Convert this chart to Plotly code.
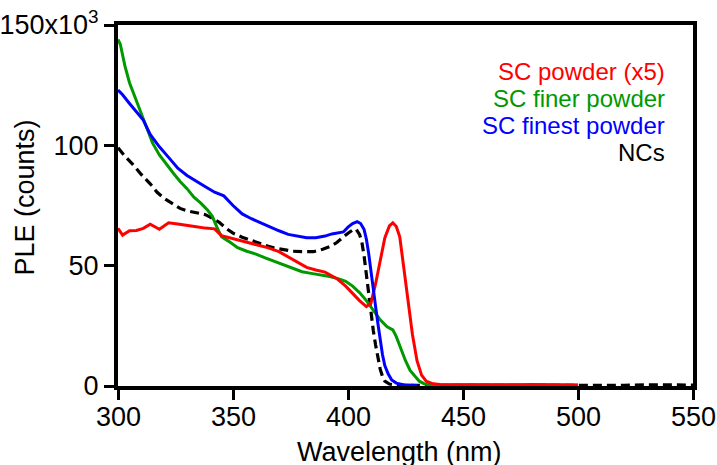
import plotly.graph_objects as go

# Wavelength (nm) and PLE (x10^3 counts)
red_wl = [300, 302, 305, 308, 311, 314, 318, 322, 326, 330, 334, 338, 342, 345, 350, 355, 360, 365, 370, 376,
          382, 386, 390, 395, 399, 402, 405, 408, 410, 412, 414, 416, 418, 419.5, 421, 422.5, 424, 426, 428, 430,
          432, 434, 437, 440, 450, 460, 470, 480, 490, 500]
red_val = [65.5, 62.7, 64.5, 64.6, 65.5, 67.2, 65.1, 67.8, 67.3, 66.9, 66.2, 65.6, 65.3, 62.5, 61.2, 59.8, 58.8, 57.5, 55.8, 52.6,
           49.3, 48.2, 47.3, 44.7, 41.5, 38.5, 35.5, 33.0, 34.5, 42.5, 52.5, 61.5, 66.5, 67.8, 66.3, 62.0, 51.0, 36.5, 21.5, 10.5,
           4.5, 2.0, 0.9, 0.6, 0.5, 0.6, 0.4, 0.6, 0.5, 0.4]

green_wl = [300, 301, 303, 305, 307, 309, 311, 313, 315, 318, 321, 324, 327, 330, 333, 336, 339, 341, 343, 345,
            348, 352, 356, 360, 364, 368, 372, 376, 380, 384, 388, 392, 396, 399, 402, 405, 408, 411, 414, 417,
            419.5, 421, 423, 425, 427, 429, 431, 433, 435, 440, 450, 460, 470, 480, 490, 500]
green_val = [144, 142, 133, 126, 121, 116, 110.5, 106, 101, 96, 92, 88.5, 85, 82, 78.5, 76, 73, 70.5, 66, 62,
             60.2, 57.5, 56, 54.8, 53.2, 51.8, 50.5, 48.8, 47.5, 46.8, 46.2, 45.5, 44.5, 43.5, 41.5, 38.8, 35.5, 31.5, 27.5, 24.6,
             23.3, 20.5, 15.5, 10.5, 6.5, 4.0, 2.0, 1.0, 0.5, 0.4, 0.5, 0.3, 0.5, 0.4, 0.5, 0.3]

blue_wl = [300, 302, 305, 308, 311, 314, 318, 322, 326, 330, 334, 338, 342, 346, 350, 354, 358, 362, 366, 370,
           374, 378, 382, 386, 390, 393, 396, 398, 400, 402, 404, 405.5, 407, 408, 409, 410, 411, 412, 413, 414,
           415, 416, 417.5, 419, 421, 424, 427, 430]
blue_val = [123, 121, 117.4, 114, 110.5, 104.5, 99.4, 95, 90.5, 87.5, 85, 82.8, 80.5, 79, 75, 71.5, 69.5, 67.8, 66, 64.5,
            63, 62.2, 61.6, 61.6, 62.3, 63.2, 63.5, 64, 66, 67.5, 68.3, 67.5, 65, 61, 55, 47, 40, 33, 26, 19,
            13, 8.5, 5, 2.5, 1.2, 0.5, 0.3, 0.2]

nc_wl = [300, 303, 307, 310, 314, 317, 320, 324, 327, 330, 334, 338, 341, 344, 347, 350, 354, 359, 364, 368,
         372, 376, 380, 385, 389, 392, 395, 398, 400, 402, 403.5, 405, 406, 407, 408, 409, 410, 411, 412, 413,
         414, 415, 416, 418, 420, 425, 430, 440, 450, 460, 470, 480, 490, 500, 510, 520, 530, 540, 550]
nc_val = [99, 95.5, 91.5, 88, 84, 80.5, 78, 75.5, 73.8, 72.8, 72, 71.2, 69.7, 68, 65.5, 63.5, 61.8, 60, 58.5, 57.3,
          56.5, 56, 55.8, 55.8, 56.8, 57.9, 59.5, 62, 63.5, 64.8, 65.2, 63, 60, 54, 46, 38, 30, 23, 17, 12,
          7, 4, 2, 0.8, 0.5, 0.3, 0.2, 0.2, 0.3, 0.2, 0.3, 0.2, 0.3, 0.2, 0.4, 0.3, 0.5, 0.3, 0.4]

series_names = ["SC powder (x5)", "SC finer powder", "SC finest powder", "NCs"]
x_ticks = [300, 350, 400, 450, 500, 550]
y_ticks = [0, 50, 100, 150]
y_ticktext = ["0", "50", "100", "150x10<sup>3</sup>"]
x_title = "Wavelength (nm)"
y_title = "PLE (counts)"

RED, GREEN, BLUE, BLACK = "#ff0000", "#009900", "#0000ff", "#000000"
FONT = "Arial, Liberation Sans, sans-serif"

fig = go.Figure()
fig.add_trace(go.Scatter(x=nc_wl, y=nc_val, mode="lines", name=series_names[3],
                         line=dict(color=BLACK, width=3.2, dash="9px,5px")))
fig.add_trace(go.Scatter(x=green_wl, y=green_val, mode="lines", name=series_names[1],
                         line=dict(color=GREEN, width=3)))
fig.add_trace(go.Scatter(x=red_wl, y=red_val, mode="lines", name=series_names[0],
                         line=dict(color=RED, width=3)))
fig.add_trace(go.Scatter(x=blue_wl, y=blue_val, mode="lines", name=series_names[2],
                         line=dict(color=BLUE, width=3)))

fig.update_layout(
    width=717, height=465,
    margin=dict(l=118, r=24, t=25, b=79),
    paper_bgcolor="white", plot_bgcolor="white",
    showlegend=False,
    font=dict(family=FONT, color="black", size=27),
)
fig.update_xaxes(
    range=[300, 550], tickvals=x_ticks, showticklabels=False,
    automargin=False,
    showgrid=False, zeroline=False, showline=True, linecolor="black", linewidth=4,
    mirror=True, ticks="outside", ticklen=10, tickwidth=3, tickcolor="black",
)
fig.update_yaxes(
    range=[0, 150], tickvals=y_ticks, ticktext=y_ticktext,
    automargin=False,
    showgrid=False, zeroline=False, showline=True, linecolor="black", linewidth=4,
    mirror=True, ticks="outside", ticklen=10, tickwidth=3, tickcolor="black",
    tickfont=dict(size=27, family=FONT),
)
# x tick labels placed at the axis's own tick values
for v in x_ticks:
    fig.add_annotation(text=str(v), x=v, xref="x", y=0, yref="paper", yshift=-14,
                       xanchor="center", yanchor="top", showarrow=False,
                       font=dict(size=27, family=FONT, color="black"))
fig.add_annotation(text=y_title, xref="paper", yref="paper", x=0, y=0.522,
                   xshift=-93, textangle=-90, showarrow=False,
                   font=dict(size=27, family=FONT, color="black"),
                   xanchor="center", yanchor="middle")
fig.add_annotation(text=x_title, xref="paper", yref="paper", x=0.49, y=0, yshift=-49,
                   showarrow=False, font=dict(size=27, family=FONT, color="black"),
                   xanchor="center", yanchor="top")

legend_colors = [RED, GREEN, BLUE, BLACK]
legend_y = [0.870, 0.797, 0.722, 0.648]
for name, col, yy in zip(series_names, legend_colors, legend_y):
    fig.add_annotation(text=name, xref="paper", yref="paper", x=0.955, y=yy,
                       xanchor="right", yanchor="middle", showarrow=False,
                       font=dict(size=24, family=FONT, color=col))

fig.write_html("out.html")
